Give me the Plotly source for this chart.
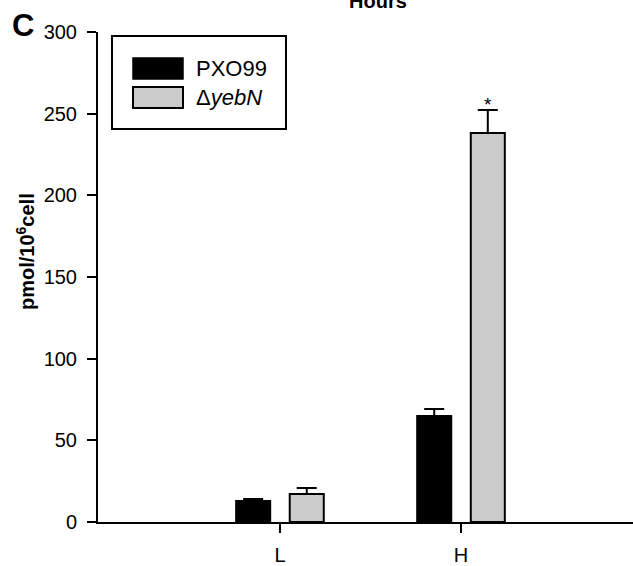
import plotly.graph_objects as go

categories = ["L", "H"]
cat_pos = [0, 1]
pxo99_values = [12.9, 64.9]
pxo99_errors = [1.2, 4.3]
yebn_values = [17.1, 238.2]
yebn_errors = [3.7, 14.0]
series_names = ["PXO99", "Δ<i>yebN</i>"]
y_ticks = [0, 50, 100, 150, 200, 250, 300]

W, H = 633, 566
L, R, T, B = 98, 0, 32, 44
pw, ph = W - L - R, H - T - B


def px(x):
    return (x - L) / pw


def py(y):
    return (H - B - y) / ph


bar_w = 0.188
fig = go.Figure()
fig.add_trace(go.Bar(
    x=cat_pos, y=pxo99_values, width=bar_w, offset=-0.242,
    marker=dict(color="black", line=dict(color="black", width=2)),
    error_y=dict(type="data", array=pxo99_errors, arrayminus=[0, 0], symmetric=False,
                 color="black", thickness=2, width=10),
    name="PXO99", showlegend=False))
fig.add_trace(go.Bar(
    x=cat_pos, y=yebn_values, width=bar_w, offset=0.054,
    marker=dict(color="#cbcbcb", line=dict(color="black", width=2)),
    error_y=dict(type="data", array=yebn_errors, arrayminus=[0, 0], symmetric=False,
                 color="black", thickness=2, width=10),
    name="yebN", showlegend=False))

fig.update_layout(
    width=W, height=H, barmode="overlay",
    margin=dict(l=L, r=R, t=T, b=B, pad=0, autoexpand=False),
    paper_bgcolor="white", plot_bgcolor="white",
    font=dict(family="Liberation Sans, Arial, sans-serif", color="black", size=20),
    xaxis=dict(range=[-1.005, 1.95], tickvals=cat_pos, ticktext=categories, automargin=False,
               showgrid=False, zeroline=False, showline=True, linecolor="black", linewidth=2,
               ticks="outside", ticklen=9, tickwidth=1.5, tickcolor="black",
               ticklabelstandoff=5, tickfont=dict(size=20)),
    yaxis=dict(range=[0, 300], tickvals=y_ticks, showgrid=False, zeroline=False, automargin=False,
               showline=True, linecolor="black", linewidth=2,
               ticks="outside", ticklen=9, tickwidth=2, tickcolor="black",
               ticklabelstandoff=6, tickfont=dict(size=20)),
)

# significance star
fig.add_annotation(x=1 + 0.054 + bar_w / 2, y=yebn_values[1] + yebn_errors[1], text="*",
                   showarrow=False, yanchor="bottom", yshift=-7, font=dict(size=19))

# legend (manual)
fig.add_shape(type="rect", xref="paper", yref="paper", x0=px(112), x1=px(286), y0=py(129), y1=py(36),
              line=dict(color="black", width=2), fillcolor="white")
fig.add_shape(type="rect", xref="paper", yref="paper", x0=px(133), x1=px(183), y0=py(79), y1=py(58),
              line=dict(color="black", width=1.5), fillcolor="black")
fig.add_shape(type="rect", xref="paper", yref="paper", x0=px(133), x1=px(183), y0=py(108), y1=py(87),
              line=dict(color="black", width=2), fillcolor="#cbcbcb")
fig.add_annotation(xref="paper", yref="paper", x=px(194), y=py(68.5), text=series_names[0],
                   showarrow=False, xanchor="left", yanchor="middle", font=dict(size=22))
fig.add_annotation(xref="paper", yref="paper", x=px(194), y=py(97.5), text=series_names[1],
                   showarrow=False, xanchor="left", yanchor="middle", font=dict(size=22))

# axis title
fig.add_annotation(xref="paper", yref="paper", x=px(25), y=py(252), text="<b>pmol/10<sup>6</sup>cell</b>",
                   showarrow=False, textangle=-90, xanchor="center", yanchor="middle", font=dict(size=20))
# panel letter
fig.add_annotation(xref="paper", yref="paper", x=px(22.5), y=py(25.5), text="<b>C</b>",
                   showarrow=False, xanchor="center", yanchor="middle", font=dict(size=31))
# cut-off title from panel above
fig.add_annotation(xref="paper", yref="paper", x=px(378), y=py(1), text="<b>Hours</b>",
                   showarrow=False, xanchor="center", yanchor="middle", font=dict(size=20))

fig.write_html("out.html", config={"displayModeBar": False},
               post_script="document.body.style.margin='0';document.body.style.overflow='hidden';")
